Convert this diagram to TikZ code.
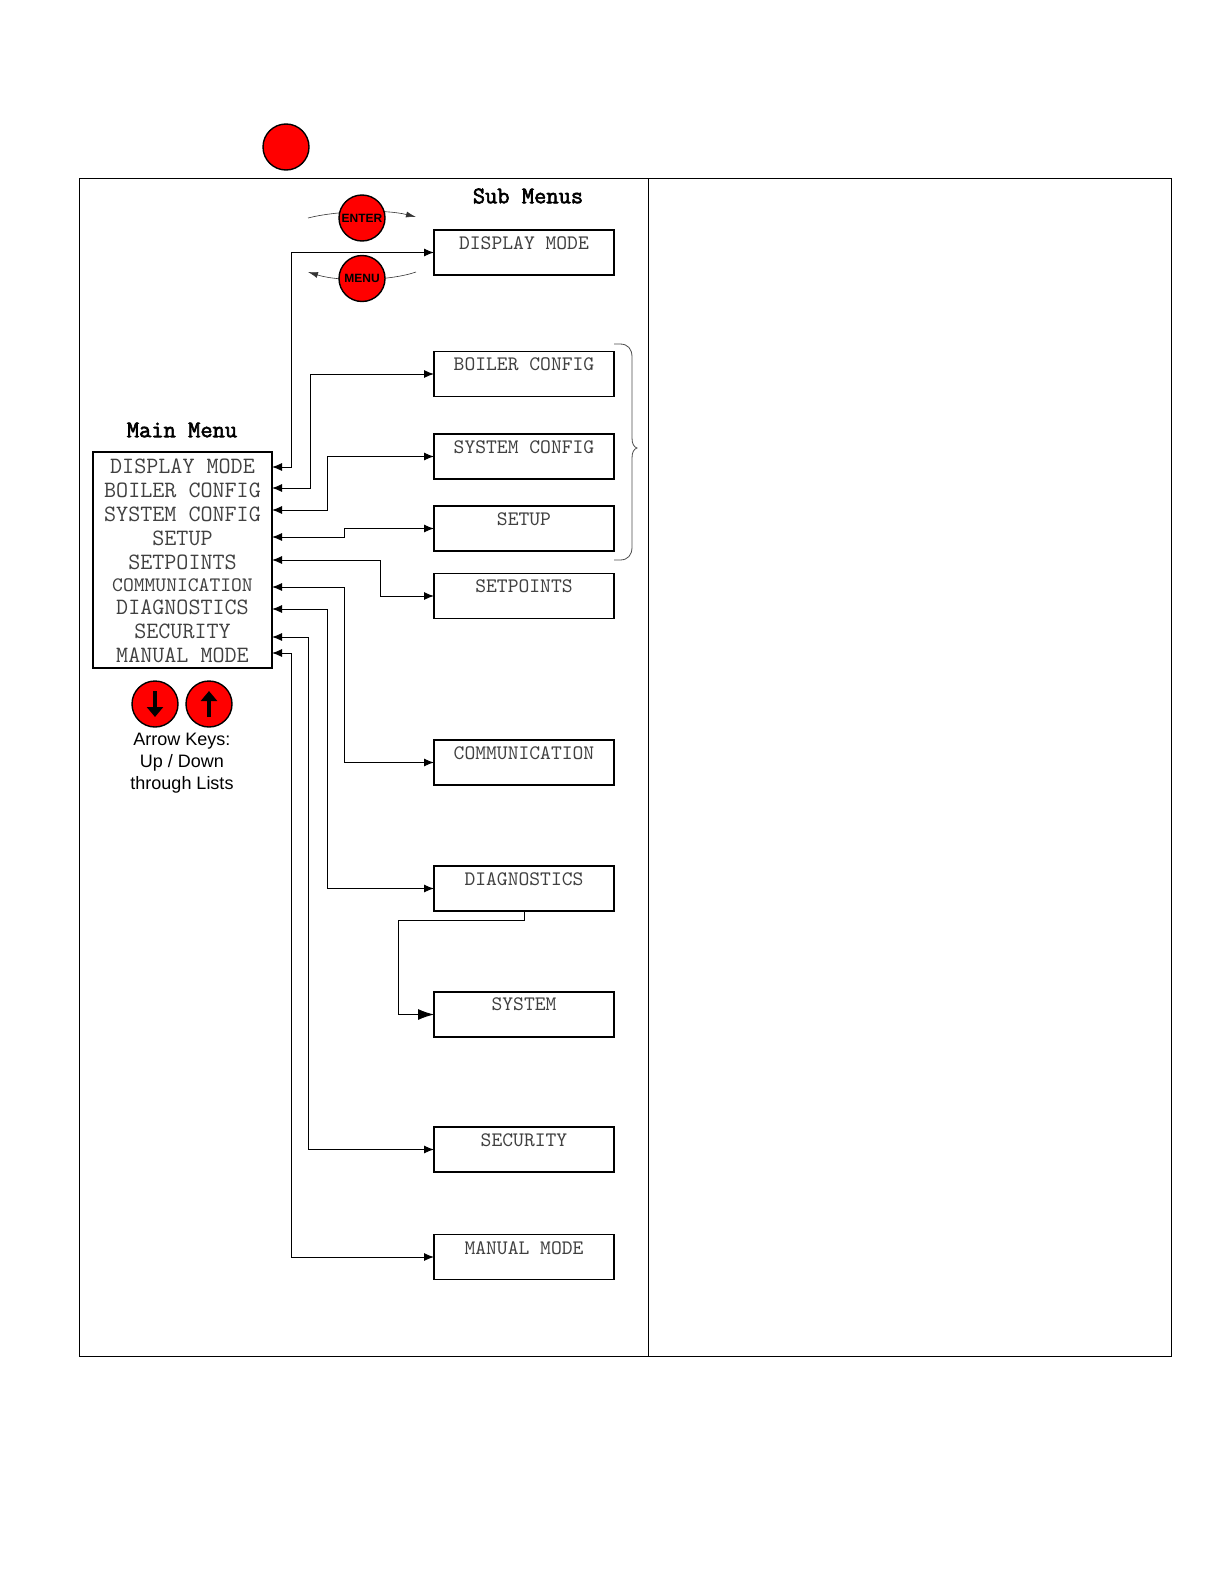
\documentclass[tikz,border=0pt]{standalone}
\usepackage{fontspec}
\setmainfont{Liberation Sans}
\newfontfamily\titlefont[FakeBold=2.5]{Latin Modern Mono}
\usetikzlibrary{arrows.meta}

\begin{document}
\begin{tikzpicture}[
    x=0.5pt, y=-0.5pt,
    panel/.style={draw, line width=0.5pt},
    mainbox/.style={draw, line width=0.9pt, minimum width=89.6pt, minimum height=108pt, inner sep=0pt, outer sep=0pt},
    subbox/.style={draw, line width=0.8pt, minimum width=90pt, minimum height=22.5pt, inner sep=0pt, outer sep=0pt, align=center, text=black!75, font=\ttfamily\fontsize{10.3}{10}\selectfont},
    item/.style={inner sep=0pt, text=black!75, font=\ttfamily\fontsize{11.7}{12}\selectfont},
    itemsm/.style={item, font=\ttfamily\fontsize{10.3}{12}\selectfont},
    title/.style={inner sep=0pt, font=\titlefont\fontsize{11.9}{12}\selectfont},
    key/.style={draw, circle, fill=red, line width=0.7pt, minimum size=23pt, inner sep=0pt, font=\bfseries\fontsize{6}{6}\selectfont},
    dbl/.style={{Latex[length=5pt,width=4pt]}-{Latex[length=5pt,width=4pt]}, line width=0.5pt},
    big/.style={-{Latex[length=8pt,width=5.5pt]}, line width=0.5pt},
    swing/.style={-{Latex[length=5pt,width=3pt]}, line width=0.3pt, black!80},
    keyarr/.style={-{Triangle[length=5pt,width=8pt]}, line width=1.6pt},
    bracket/.style={line width=0.4pt, black!70}
]
\useasboundingbox (0,0) rectangle (1224,1584);

\draw[panel] (79,178.5) rectangle (1171.5,1356);
\draw[panel] (648,178.5) -- (648,1356);

\node[key] (topKey) at (286,147) {};

\node[title] (subTitle) at (528,196) {Sub Menus};
\node[title] (mainTitle) at (182,430) {Main Menu};

% swing arrows go behind the keys
\coordinate (enterL) at (308,218);
\coordinate (enterR) at (416,217);
\coordinate (menuR) at (416,272);
\coordinate (menuL) at (308,272);
\draw[swing] (enterL) .. controls (335,211) and (385,209) .. (enterR);
\draw[swing] (menuR) .. controls (390,281) and (340,282) .. (menuL);
\node[key] (enterKey) at (362,218) {ENTER};
\node[key] (menuKey) at (362,278.5) {MENU};

\node[subbox] (sDisplay) at (524,252.5) {DISPLAY MODE\\[-1pt]~};
\node[subbox] (sBoiler) at (524,374) {BOILER CONFIG\\~};
\node[subbox] (sSystem) at (524,456.5) {SYSTEM CONFIG\\[-1pt]~};
\node[subbox] (sSetup) at (524,528.5) {SETUP\\[-1pt]~};
\node[subbox] (sPoints) at (524,596) {SETPOINTS\\~};
\node[subbox] (sComm) at (524,762.5) {COMMUNICATION\\[-1pt]~};
\node[subbox] (sDiag) at (524,888.5) {DIAGNOSTICS\\[-1pt]~};
\node[subbox] (sSys) at (524,1014.5) {SYSTEM\\~};
\node[subbox] (sSecure) at (524,1149.5) {SECURITY\\[-1pt]~};
\node[subbox] (sManual) at (524,1257) {MANUAL MODE\\[-1pt]~};

\node[mainbox] (main) at (182.5,560) {};
\node[item] (iDisplay) at (182.5,466) {DISPLAY MODE};
\node[item] (iBoiler) at (182.5,490) {BOILER CONFIG};
\node[item] (iSystem) at (182.5,514) {SYSTEM CONFIG};
\node[item] (iSetup) at (182.5,538.5) {SETUP};
\node[item] (iPoints) at (182.5,562) {SETPOINTS};
\node[itemsm] (iComm) at (182.5,585) {COMMUNICATION};
\node[item] (iDiag) at (182.5,607) {DIAGNOSTICS};
\node[item] (iSecure) at (182.5,631) {SECURITY};
\node[item] (iManual) at (182.5,655) {MANUAL MODE};

\coordinate (mDisplay) at (272,467);
\coordinate (mBoiler) at (272,488);
\coordinate (mSystem) at (272,510);
\coordinate (mSetup) at (272,537);
\coordinate (mPoints) at (272,560);
\coordinate (mComm) at (272,587);
\coordinate (mDiag) at (272,609);
\coordinate (mSecure) at (272,637);
\coordinate (mManual) at (272,653);

\draw[dbl] (mDisplay) -- ++(19.5,0) |- (sDisplay.west);
\draw[dbl] (mBoiler) -- ++(38,0) |- (sBoiler.west);
\draw[dbl] (mSystem) -- ++(55,0) |- (sSystem.west);
\draw[dbl] (mSetup) -- ++(72,0) |- (sSetup.west);
\draw[dbl] (mPoints) -- ++(108.5,0) |- (sPoints.west);
\draw[dbl] (mComm) -- ++(72.5,0) |- (sComm.west);
\draw[dbl] (mDiag) -- ++(55,0) |- (sDiag.west);
\draw[dbl] (mSecure) -- ++(36.5,0) |- (sSecure.west);
\draw[dbl] (mManual) -- ++(19.5,0) |- (sManual.west);
\draw[big] (sDiag.south) -- ++(0,9.5) -- ++(-126,0) |- (sSys.west);

% bracket round the three config boxes
\draw[bracket] (614,344) -- (620,344) .. controls (628,344) and (632,349) .. (632,357)
    -- (632,438) .. controls (632,444) and (634,447) .. (637,448)
    .. controls (634,449) and (632,452) .. (632,458)
    -- (632,547) .. controls (632,555) and (628,560) .. (620,560) -- (614,560);

\node[key] (downKey) at (155,704) {};
\node[key] (upKey) at (209,704) {};
\draw[keyarr] ([yshift=6.5pt]downKey.center) -- ([yshift=-6.5pt]downKey.center);
\draw[keyarr] ([yshift=-6.5pt]upKey.center) -- ([yshift=6.5pt]upKey.center);
\node[align=center, inner sep=0pt, font=\fontsize{9}{11}\selectfont] (keyNote) at (182,763.5) {Arrow Keys:\\Up / Down\\through Lists};
\end{tikzpicture}
\end{document}
